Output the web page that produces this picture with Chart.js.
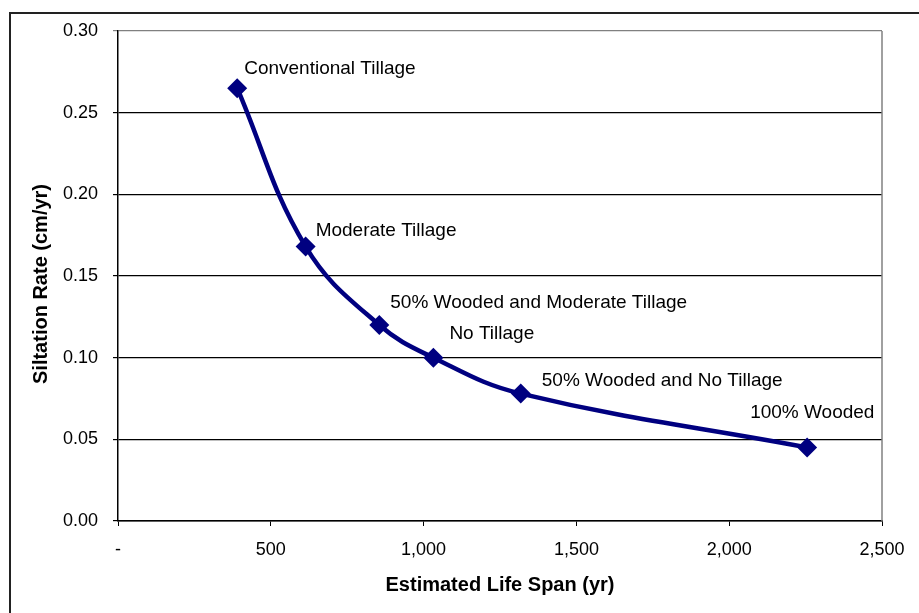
<!DOCTYPE html>
<html>
<head>
<meta charset="utf-8">
<script src="https://cdn.jsdelivr.net/npm/chart.js@4.4.0/dist/chart.umd.min.js"></script>
<style>
    html, body { margin: 0; padding: 0; background: #fff; }
    #wrap { position: relative; width: 919px; height: 613px; overflow: hidden; }
    #frame { position: absolute; left: 9px; top: 12px; width: 1000px; height: 700px; border-left: 2px solid #222; border-top: 2px solid #222; }
    #chart { position: absolute; left: 0; top: 0; }
</style>
</head>
<body>
<div id="wrap">
    <div id="frame"></div>
    <canvas id="chart" width="919" height="613"></canvas>
</div>
<script>
// ---------------------------------------------------------------------------- D A T A
const scenarios = [
    'Conventional Tillage',
    'Moderate Tillage',
    '50% Wooded and Moderate Tillage',
    'No Tillage',
    '50% Wooded and No Tillage',
    '100% Wooded'
];
const lifeSpan = [390, 614, 855, 1032, 1318, 2255];          // yr
const siltation = [0.265, 0.168, 0.120, 0.100, 0.078, 0.045]; // cm/yr

// where each label sits relative to its point (left edge, baseline)
const labelOffset = [[7, -14], [10, -11], [11, -17], [16, -19], [21, -8], [-57, -30]];

const tickFont = { family: '"Liberation Sans", Arial, sans-serif', size: 18 };
const titleFont = { family: '"Liberation Sans", Arial, sans-serif', size: 20, weight: 'bold' };

// ---------------------------------------------------------------------------- P L U G I N S
const pointLabels = {
    id: 'pointLabels',
    afterDatasetsDraw(chart) {
        const { ctx, scales: { x, y } } = chart;
        ctx.save();
        ctx.font = '19px "Liberation Sans", Arial, sans-serif';
        ctx.fillStyle = '#000';
        ctx.textBaseline = 'alphabetic';
        ctx.textAlign = 'left';
        scenarios.forEach((name, i) => {
            const px = x.getPixelForValue(lifeSpan[i]) + labelOffset[i][0];
            const py = y.getPixelForValue(siltation[i]) + labelOffset[i][1];
            ctx.fillText(name, px, py);
        });
        ctx.restore();
    }
};

// gray border on the right of the plot area + y title (sits a bit below the middle, like Excel)
const plotBorder = {
    id: 'plotBorder',
    beforeDatasetsDraw(chart) {
        const { ctx, chartArea } = chart;
        ctx.save();
        ctx.strokeStyle = '#808080';
        ctx.lineWidth = 1.5;
        ctx.beginPath();
        ctx.moveTo(chartArea.right, chartArea.top);
        ctx.lineTo(chartArea.right, chartArea.bottom);
        ctx.stroke();

        ctx.translate(41.5, (chartArea.top + chartArea.bottom) / 2 + 8);
        ctx.rotate(-Math.PI / 2);
        ctx.font = 'bold 20px "Liberation Sans", Arial, sans-serif';
        ctx.fillStyle = '#000';
        ctx.textAlign = 'center';
        ctx.textBaseline = 'middle';
        ctx.fillText('Siltation Rate (cm/yr)', 0, 0);
        ctx.restore();
    }
};

// ---------------------------------------------------------------------------- C H A R T
const ctx = document.getElementById('chart').getContext('2d');
const myChart = new Chart(ctx, {
    type: 'scatter',
    data: {
        datasets: [{
            data: lifeSpan.map((v, i) => ({ x: v, y: siltation[i] })),
            showLine: true,
            borderColor: '#000080',
            backgroundColor: '#000080',
            borderWidth: 4.5,
            tension: 0.4,
            pointStyle: 'rectRot',
            pointRadius: 10,
            pointBorderWidth: 0,
            pointBackgroundColor: '#000080'
        }]
    },
    options: {
        responsive: false,
        animation: false,
        layout: {
            padding: { left: 0, top: 31, right: 37, bottom: 0 }
        },
        plugins: {
            legend: { display: false },
            tooltip: { enabled: false }
        },
        scales: {
            x: {
                type: 'linear',
                min: 0,
                max: 2500,
                ticks: {
                    stepSize: 500,
                    maxRotation: 0,
                    padding: 13,
                    color: '#000',
                    font: tickFont,
                    callback: v => v === 0 ? '-' : v.toLocaleString('en-US')
                },
                grid: { drawOnChartArea: false, tickLength: 5, color: '#000' },
                border: { color: '#000', width: 1.5 },
                title: {
                    display: true,
                    text: 'Estimated Life Span (yr)',
                    color: '#000',
                    font: titleFont,
                    padding: { top: 0, bottom: 16 }
                },
                afterFit: s => { s.height = 92; }
            },
            y: {
                min: 0,
                max: 0.3,
                ticks: {
                    stepSize: 0.05,
                    padding: 15,
                    color: '#000',
                    font: tickFont,
                    callback: v => v.toFixed(2)
                },
                grid: {
                    tickLength: 5,
                    lineWidth: 1.2,
                    color: c => (c.tick && c.tick.value > 0.299) ? '#808080' : '#000'
                },
                border: { color: '#000', width: 1.5 },
                afterFit: s => { s.width = 118; }
            }
        }
    },
    plugins: [plotBorder, pointLabels]
});
</script>
</body>
</html>
